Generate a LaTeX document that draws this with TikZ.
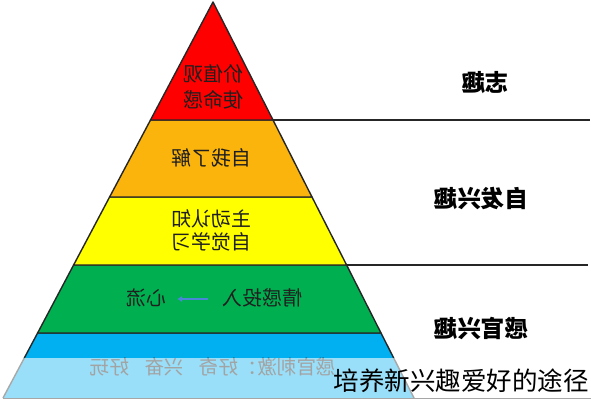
\documentclass[tikz,border=0pt]{standalone}
\usepackage{fontspec}
\usepackage{graphicx}
\newfontfamily\cjk{Noto Sans CJK SC}
\usetikzlibrary{arrows.meta}
\definecolor{cred}{HTML}{FF0000}
\definecolor{corange}{HTML}{FBB40C}
\definecolor{cyellow}{HTML}{FFFF00}
\definecolor{cgreen}{HTML}{00B050}
\definecolor{cblue}{HTML}{00B0F0}
\definecolor{carrow}{HTML}{4A86D8}
\begin{document}
\begin{tikzpicture}[x=1pt,y=-1pt,
  layer/.style={draw=black!85, line width=1.4pt, line join=round},
  lvl/.style={font=\cjk\fontsize{20}{26}\selectfont, text=black!88, align=center, inner sep=0pt},
  lvlb/.style={font=\cjk\fontsize{19.5}{24}\selectfont, text=black!90, inner sep=0pt},
  side/.style={font=\cjk\bfseries\fontsize{23.5}{28}\selectfont, text=black, inner sep=0pt},
  sideline/.style={draw=black!85, line width=1.4pt},
  flowarrow/.style={draw=carrow, line width=2.6pt, -{Latex[length=5pt,width=6.5pt]}},
  captext/.style={font=\cjk\fontsize{25.5}{30}\selectfont, text=black, inner sep=0pt}
]
\useasboundingbox (0,0) rectangle (591,400);
% pyramid corners
\coordinate (A) at (213,2);
\coordinate (L1) at (150.5,120); \coordinate (R1) at (273,120);
\coordinate (L2) at (109.6,197); \coordinate (R2) at (312,197);
\coordinate (L3) at (73.6,265);  \coordinate (R3) at (346.6,265);
\coordinate (L4) at (37.6,333);  \coordinate (R4) at (381,333);
\coordinate (L5) at (3,398);     \coordinate (R5) at (414,398);
\coordinate (E1) at (590,120);
\coordinate (E3) at (588,265);
\coordinate (E5) at (591,398);
% layers
\fill[cblue] (L4) -- (R4) -- (R5) -- (L5) -- cycle;
\draw[layer] (L5) -- (L4) -- (R4) -- (R5);
\filldraw[layer, fill=cgreen] (L3) -- (R3) -- (R4) -- (L4) -- cycle;
\filldraw[layer, fill=cyellow] (L2) -- (R2) -- (R3) -- (L3) -- cycle;
\filldraw[layer, fill=corange] (L1) -- (R1) -- (R2) -- (L2) -- cycle;
\filldraw[layer, fill=cred] (A) -- (R1) -- (L1) -- cycle;
% side lines
\draw[sideline] (R1) -- (E1);
\draw[sideline] (R3) -- (E3);
% level texts
\node[lvl] (t1) at (213,87) {\reflectbox{价值观}\\\reflectbox{使命感}};
\node[lvl] (t2) at (211,158) {\reflectbox{自我了解}};
\node[lvl, font=\cjk\fontsize{20}{23.5}\selectfont] (t3) at (211,230.5) {\reflectbox{主动认知}\\\reflectbox{自觉学习}};
\node[lvl] (flow) at (146,298) {\reflectbox{心流}};
\node[lvl] (emo) at (262,298) {\reflectbox{情感投入}};
\draw[flowarrow] ([xshift=-14pt,yshift=-1pt]emo.west) -- ([xshift=11pt,yshift=-1pt]flow.east);
\node[lvlb] (t5) at (213,367) {\reflectbox{感官刺激：好奇\hspace{0.8em}兴奋\hspace{0.8em}好玩}};
% side labels
\node[side] (s1) at (485,83) {\reflectbox{志趣}};
\node[side] (s2) at (481,198) {\reflectbox{自发兴趣}};
\node[side] (s3) at (481,328) {\reflectbox{感官兴趣}};
% caption overlay
\fill[white, opacity=0.6] (0,358) rectangle (591,398);
\draw[gray!70, line width=1pt] (L5) -- (E5);
\node[captext] (caption) at (461,381) {培养新兴趣爱好的途径};
\end{tikzpicture}
\end{document}
